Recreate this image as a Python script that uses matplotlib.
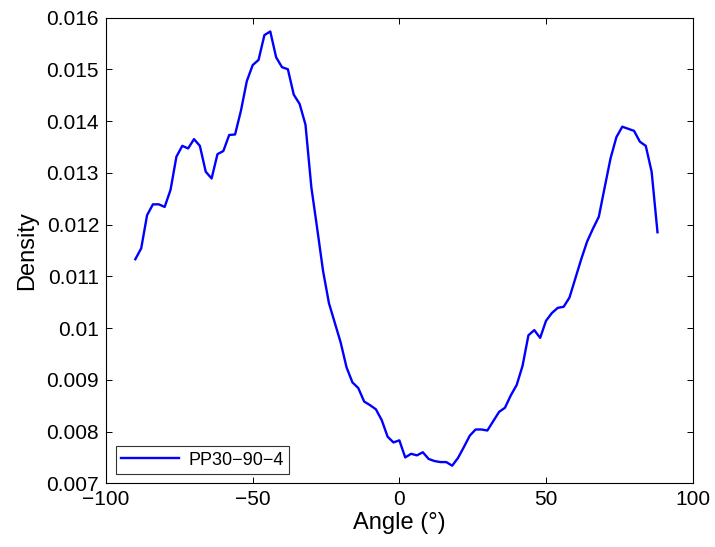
import matplotlib
matplotlib.use("Agg")
import matplotlib.pyplot as plt

plt.rcParams['font.family'] = ['Liberation Sans', 'DejaVu Sans']

angles = [-90, -88, -86, -84, -82, -80, -78, -76, -74, -72,
          -70, -68, -66, -64, -62, -60, -58, -56, -54, -52,
          -50, -48, -46, -44, -42, -40, -38, -36, -34, -32,
          -30, -28, -26, -24, -22, -20, -18, -16, -14, -12,
          -10, -8, -6, -4, -2, 0, 2, 4, 6, 8,
          10, 12, 14, 16, 18, 20, 22, 24, 26, 28,
          30, 32, 34, 36, 38, 40, 42, 44, 46, 48,
          50, 52, 54, 56, 58, 60, 62, 64, 66, 68,
          70, 72, 74, 76, 78, 80, 82, 84, 86, 88]

density = [0.01133, 0.01154, 0.01218, 0.01239, 0.01239, 0.01234, 0.01267, 0.01331, 0.01352, 0.01347,
           0.01365, 0.01352, 0.01302, 0.01289, 0.01336, 0.01342, 0.01373, 0.01374, 0.01420, 0.01477,
           0.01508, 0.01518, 0.01566, 0.01573, 0.01523, 0.01504, 0.01500, 0.01451, 0.01433, 0.01393,
           0.01272, 0.01192, 0.01110, 0.01048, 0.01010, 0.00972, 0.00924, 0.00895, 0.00884, 0.00858,
           0.00851, 0.00843, 0.00822, 0.00790, 0.00779, 0.00783, 0.00750, 0.00757, 0.00754, 0.00760,
           0.00747, 0.00743, 0.00741, 0.00741, 0.00734, 0.00749, 0.00770, 0.00792, 0.00804, 0.00804,
           0.00802, 0.00820, 0.00838, 0.00846, 0.00870, 0.00890, 0.00927, 0.00986, 0.00996, 0.00981,
           0.01014, 0.01029, 0.01039, 0.01041, 0.01059, 0.01096, 0.01133, 0.01167, 0.01192, 0.01215,
           0.01272, 0.01328, 0.01369, 0.01389, 0.01385, 0.01381, 0.01360, 0.01352, 0.01302, 0.01185]

series_label = "PP30\u221290\u22124"
x_ticks = [-100, -50, 0, 50, 100]
x_tick_labels = ["\u2212100", "\u221250", "0", "50", "100"]
y_ticks = [0.007, 0.008, 0.009, 0.010, 0.011, 0.012, 0.013, 0.014, 0.015, 0.016]
y_tick_labels = ["0.007", "0.008", "0.009", "0.01", "0.011", "0.012", "0.013", "0.014", "0.015", "0.016"]
x_label = "Angle (°)"
y_label = "Density"

fig = plt.figure(figsize=(7.15, 5.47), dpi=100)
ax = fig.add_axes([106/715, 1 - 483.3/547, (692.7 - 106)/715, (483.3 - 17.5)/547])

ax.plot(angles, density, color=(0, 0, 1), linewidth=1.7, label=series_label)

ax.set_xlim(-100, 100)
ax.set_ylim(0.007, 0.016)
ax.set_xticks(x_ticks)
ax.set_xticklabels(x_tick_labels)
ax.set_yticks(y_ticks)
ax.set_yticklabels(y_tick_labels)
ax.tick_params(direction='in', length=4.5, width=0.7, top=True, right=True,
               labelsize=15, pad=5, colors='black')
for s in ax.spines.values():
    s.set_linewidth(0.8)
ax.set_xlabel(x_label, fontsize=17, labelpad=2)
ax.set_ylabel(y_label, fontsize=17, labelpad=6)

leg = ax.legend(loc='lower left', bbox_to_anchor=(0.017, 0.02), borderaxespad=0,
                fontsize=13, frameon=True, fancybox=False, handlelength=3.2,
                handletextpad=0.5, borderpad=0.3)
leg.get_frame().set_edgecolor('black')
leg.get_frame().set_linewidth(0.8)

fig.savefig("out.png", dpi=100)
